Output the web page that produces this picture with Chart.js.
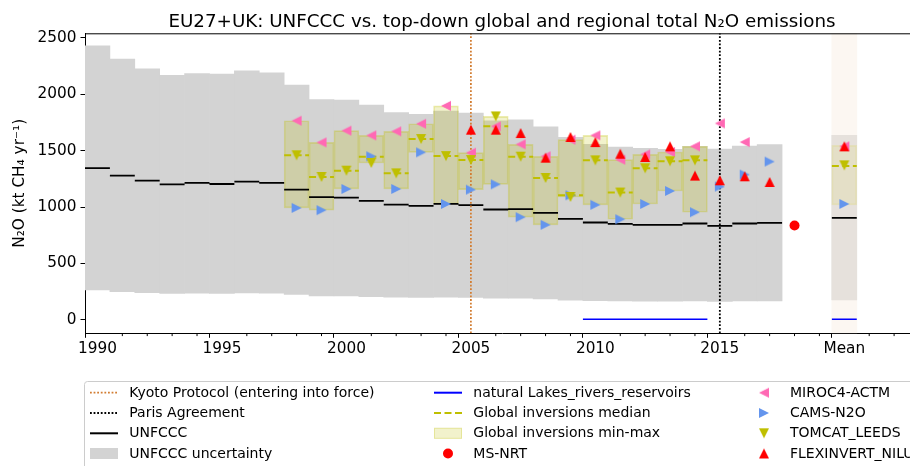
<!DOCTYPE html>
<html>
<head>
<meta charset="utf-8">
<script src="https://cdn.jsdelivr.net/npm/chart.js@4.4.1/dist/chart.umd.min.js"></script>
<style>
  html, body { margin: 0; padding: 0; overflow: hidden; background: #fff; }
</style>
</head>
<body>
<canvas id="n2oChart" width="924" height="466"></canvas>
<script>
// ---- data (kt N2O / yr) ----
const unfcccYears = [1990, 1991, 1992, 1993, 1994, 1995, 1996, 1997, 1998, 1999, 2000, 2001, 2002, 2003,
                     2004, 2005, 2006, 2007, 2008, 2009, 2010, 2011, 2012, 2013, 2014, 2015, 2016, 2017];
const unfccc     = [1345, 1278, 1234, 1201, 1213, 1204, 1225, 1213, 1154, 1087, 1084, 1054, 1022, 1010,
                    1027, 1016, 978, 981, 948, 895, 863, 851, 842, 842, 854, 833, 854, 860];
const unfcccLow  = [265, 250, 241, 236, 238, 236, 240, 238, 226, 213, 213, 207, 201, 199,
                    202, 200, 192, 193, 187, 176, 170, 168, 166, 166, 168, 164, 168, 169];
const unfcccHigh = [2427, 2309, 2223, 2167, 2182, 2176, 2205, 2188, 2079, 1952, 1946, 1902, 1837, 1820,
                    1849, 1831, 1762, 1773, 1711, 1617, 1556, 1531, 1519, 1510, 1537, 1513, 1540, 1552];

const invYears  = [1998, 1999, 2000, 2001, 2002, 2003, 2004, 2005, 2006, 2007, 2008, 2009, 2010, 2011, 2012, 2013, 2014];
const invMin    = [992, 972, 1160, 1390, 1160, 1484, 1027, 1154, 1201, 910, 842, 1089, 1019, 892, 1027, 1142, 954];
const invMax    = [1764, 1572, 1676, 1634, 1670, 1737, 1896, 1481, 1802, 1555, 1449, 1596, 1634, 1419, 1466, 1487, 1537];
const invMedian = [1458, 1266, 1322, 1446, 1298, 1602, 1451, 1416, 1714, 1446, 1257, 1104, 1413, 1128, 1343, 1405, 1413];

const mirocYears  = [1998, 1999, 2000, 2001, 2002, 2003, 2004, 2005, 2006, 2007, 2008, 2009, 2010, 2011, 2012, 2013, 2014, 2015, 2016];
const miroc       = [1764, 1572, 1676, 1634, 1670, 1737, 1896, 1481, 1714, 1555, 1449, 1596, 1634, 1419, 1466, 1487, 1537, 1740, 1575];
const camsYears   = [1998, 1999, 2000, 2001, 2002, 2003, 2004, 2005, 2006, 2007, 2008, 2009, 2010, 2011, 2012, 2013, 2014, 2015, 2016, 2017];
const cams        = [992, 972, 1160, 1449, 1160, 1484, 1027, 1154, 1201, 910, 842, 1104, 1019, 892, 1027, 1142, 954, 1181, 1287, 1402];
const tomcatYears = [1998, 1999, 2000, 2001, 2002, 2003, 2004, 2005, 2006, 2007, 2008, 2009, 2010, 2011, 2012, 2013, 2014];
const tomcat      = [1458, 1266, 1322, 1390, 1298, 1602, 1451, 1416, 1802, 1446, 1257, 1089, 1413, 1128, 1343, 1405, 1413];
const flexYears   = [2005, 2006, 2007, 2008, 2009, 2010, 2011, 2012, 2013, 2014, 2015, 2016, 2017];
const flex        = [1685, 1685, 1655, 1437, 1620, 1575, 1472, 1443, 1537, 1278, 1237, 1272, 1222];
const msNrtYears  = [2018];
const msNrt       = [836];
const lakesYears  = [2010, 2011, 2012, 2013, 2014];
const lakes       = [6, 6, 6, 6, 6];

// "Mean" column, plotted at x = 2020
const MEAN_X = 2020;
const meanUnfccc = 904, meanUnfcccLow = 178, meanUnfcccHigh = 1634;
const meanInvMin = 1019, meanInvMax = 1546, meanInvMedian = 1363;
const meanMiroc = 1537, meanCams = 1027, meanTomcat = 1369, meanFlex = 1537, meanLakes = 6;

const xTickYears  = [1990, 1995, 2000, 2005, 2010, 2015, 2020];
const xTickLabels = ['1990', '1995', '2000', '2005', '2010', '2015', 'Mean'];
const yTicks = [0, 500, 1000, 1500, 2000, 2500];
const KYOTO = 2005, PARIS = 2015;
const Y_MIN = -118, Y_MAX = 2538;

const FONT = "'DejaVu Sans', sans-serif";
const OLIVE = 'rgb(191,191,0)';
const KYOTO_COL = 'rgb(210,125,50)';
Chart.defaults.font.family = FONT;
Chart.defaults.color = '#000';

// helpers
const withMean = (a, m) => a.concat([m]);
const pts = (xs, ys) => xs.map((x, i) => ({ x: x, y: ys[i] }));
const floats = (xs, lo, hi) => xs.map((x, i) => ({ x: x, y: [lo[i], hi[i]] }));
// one horizontal step per year, gaps between years
function steps(xs, ys) {
  const out = [];
  xs.forEach((x, i) => {
    out.push({ x: x - 0.5, y: ys[i] }, { x: x + 0.5, y: ys[i] }, { x: x + 0.5, y: null });
  });
  return out;
}
// matplotlib-like triangle markers
function tri(dir, color) {
  const c = document.createElement('canvas');
  c.width = c.height = 12;
  const g = c.getContext('2d');
  g.fillStyle = color;
  g.beginPath();
  if (dir === 'up')    { g.moveTo(6, 1);  g.lineTo(11, 11); g.lineTo(1, 11); }
  if (dir === 'down')  { g.moveTo(1, 1);  g.lineTo(11, 1);  g.lineTo(6, 11); }
  if (dir === 'left')  { g.moveTo(1, 6);  g.lineTo(11, 1);  g.lineTo(11, 11); }
  if (dir === 'right') { g.moveTo(1, 1);  g.lineTo(11, 6);  g.lineTo(1, 11); }
  g.closePath();
  g.fill();
  return c;
}
const mkMiroc = tri('left', 'rgb(255,105,180)');
const mkCams = tri('right', 'rgb(100,149,237)');
const mkTomcat = tri('down', OLIVE);
const mkFlex = tri('up', 'rgb(255,0,0)');

const allUnfYears = withMean(unfcccYears, MEAN_X);
const allInvYears = withMean(invYears, MEAN_X);

const datasets = [
  { type: 'bar', label: 'UNFCCC uncertainty', order: 20,
    data: floats(allUnfYears, withMean(unfcccLow, meanUnfcccLow), withMean(unfcccHigh, meanUnfcccHigh)),
    backgroundColor: 'rgb(211,211,211)', borderWidth: 0 },
  { type: 'bar', label: 'Global inversions min-max', order: 19,
    data: floats(allInvYears, withMean(invMin, meanInvMin), withMean(invMax, meanInvMax)),
    backgroundColor: 'rgba(191,191,0,0.2)', borderColor: 'rgba(191,191,0,0.3)', borderWidth: 1, borderSkipped: false },
  { type: 'bar', label: 'mean span', order: 18,
    data: [{ x: MEAN_X, y: [Y_MIN, Y_MAX] }],
    backgroundColor: 'rgba(250,240,230,0.5)', borderWidth: 0 },
  { type: 'line', label: 'UNFCCC', order: 10,
    data: steps(allUnfYears, withMean(unfccc, meanUnfccc)),
    borderColor: '#000', borderWidth: 1.8, pointRadius: 0, spanGaps: false },
  { type: 'line', label: 'natural Lakes_rivers_reservoirs', order: 9,
    data: steps(withMean(lakesYears, MEAN_X), withMean(lakes, meanLakes)),
    borderColor: 'rgb(0,0,255)', borderWidth: 1.6, pointRadius: 0, spanGaps: false },
  { type: 'line', label: 'Global inversions median', order: 8,
    data: steps(allInvYears, withMean(invMedian, meanInvMedian)),
    borderColor: OLIVE, borderWidth: 2, borderDash: [7, 3.5], pointRadius: 0, spanGaps: false },
  { type: 'line', label: 'Kyoto Protocol (entering into force)', order: 7,
    data: [{ x: KYOTO, y: Y_MIN }, { x: KYOTO, y: Y_MAX }],
    borderColor: KYOTO_COL, borderWidth: 1.8, borderDash: [1.8, 1.8], pointRadius: 0 },
  { type: 'line', label: 'Paris Agreement', order: 7,
    data: [{ x: PARIS, y: Y_MIN }, { x: PARIS, y: Y_MAX }],
    borderColor: '#000', borderWidth: 1.8, borderDash: [1.8, 1.8], pointRadius: 0 },
  { type: 'scatter', label: 'MS-NRT', order: 5,
    data: pts(msNrtYears, msNrt), backgroundColor: 'rgb(255,0,0)', borderWidth: 0, pointRadius: 5 },
  { type: 'scatter', label: 'MIROC4-ACTM', order: 4,
    data: pts(withMean(mirocYears, MEAN_X), withMean(miroc, meanMiroc)), pointStyle: mkMiroc },
  { type: 'scatter', label: 'CAMS-N2O', order: 3,
    data: pts(withMean(camsYears, MEAN_X), withMean(cams, meanCams)), pointStyle: mkCams },
  { type: 'scatter', label: 'TOMCAT_LEEDS', order: 2,
    data: pts(withMean(tomcatYears, MEAN_X), withMean(tomcat, meanTomcat)), pointStyle: mkTomcat },
  { type: 'scatter', label: 'FLEXINVERT_NILU', order: 1,
    data: pts(withMean(flexYears, MEAN_X), withMean(flex, meanFlex)), pointStyle: mkFlex }
];

// legend entries, column by column like the original
const legendCols = [
  [['Kyoto Protocol (entering into force)', 'dots', KYOTO_COL],
   ['Paris Agreement', 'dots', '#000'],
   ['UNFCCC', 'line', '#000'],
   ['UNFCCC uncertainty', 'patch', 'rgb(211,211,211)']],
  [['natural Lakes_rivers_reservoirs', 'line', 'rgb(0,0,255)'],
   ['Global inversions median', 'dash', OLIVE],
   ['Global inversions min-max', 'patchY', ''],
   ['MS-NRT', 'circle', 'rgb(255,0,0)']],
  [['MIROC4-ACTM', 'img', mkMiroc],
   ['CAMS-N2O', 'img', mkCams],
   ['TOMCAT_LEEDS', 'img', mkTomcat],
   ['FLEXINVERT_NILU', 'img', mkFlex]]
];

const decor = {
  id: 'decor',
  afterDraw(chart) {
    const ctx = chart.ctx, ca = chart.chartArea, xs = chart.scales.x;
    ctx.save();
    // top spine
    ctx.strokeStyle = '#000';
    ctx.lineWidth = 1;
    ctx.beginPath();
    ctx.moveTo(ca.left, ca.top + 0.5);
    ctx.lineTo(ca.right, ca.top + 0.5);
    ctx.stroke();
    // minor x ticks
    xs.ticks.forEach(t => {
      if (xTickYears.indexOf(t.value) >= 0) return;
      const px = xs.getPixelForValue(t.value);
      ctx.beginPath();
      ctx.moveTo(px, ca.bottom);
      ctx.lineTo(px, ca.bottom + 2.8);
      ctx.stroke();
    });
    // title, centred on the axes
    ctx.fillStyle = '#000';
    ctx.font = '18.3px ' + FONT;
    ctx.textAlign = 'center';
    ctx.textBaseline = 'alphabetic';
    ctx.fillText('EU27+UK: UNFCCC vs. top-down global and regional total N\u2082O emissions', (ca.left + ca.right) / 2, 26.5);

    // legend
    ctx.strokeStyle = 'rgb(204,204,204)';
    ctx.lineWidth = 1;
    ctx.beginPath();
    ctx.roundRect(84.5, 381.5, 900, 120, 3);
    ctx.stroke();
    const rowY = [392.7, 413, 433.3, 453.5];
    const handleX = [90, 434, 750];
    const textX = [129.3, 473.3, 790];
    ctx.font = '14px ' + FONT;
    ctx.textAlign = 'left';
    ctx.textBaseline = 'middle';
    legendCols.forEach((col, ci) => {
      col.forEach((item, ri) => {
        const [label, kind, style] = item;
        const y = rowY[ri], x0 = handleX[ci], x1 = x0 + 28;
        ctx.save();
        if (kind === 'dots' || kind === 'line' || kind === 'dash') {
          ctx.strokeStyle = style;
          ctx.lineWidth = kind === 'dots' ? 1.8 : 2;
          ctx.setLineDash(kind === 'dots' ? [1.8, 1.8] : kind === 'dash' ? [7, 3.5] : []);
          ctx.beginPath();
          ctx.moveTo(x0, y);
          ctx.lineTo(x1, y);
          ctx.stroke();
        } else if (kind === 'patch') {
          ctx.fillStyle = style;
          ctx.fillRect(x0, y - 5.5, 28, 11);
        } else if (kind === 'patchY') {
          ctx.fillStyle = 'rgba(191,191,0,0.2)';
          ctx.fillRect(x0, y - 5.5, 28, 11);
          ctx.strokeStyle = 'rgba(191,191,0,0.25)';
          ctx.strokeRect(x0 + 0.5, y - 5, 27, 10);
        } else if (kind === 'circle') {
          ctx.fillStyle = style;
          ctx.beginPath();
          ctx.arc(x0 + 14, y, 5, 0, Math.PI * 2);
          ctx.fill();
        } else if (kind === 'img') {
          ctx.drawImage(style, x0 + 14 - 6, y - 6);
        }
        ctx.restore();
        ctx.fillStyle = '#000';
        ctx.fillText(label, textX[ci], y + 0.5);
      });
    });
    ctx.restore();
  }
};

const chart = new Chart(document.getElementById('n2oChart'), {
  type: 'scatter',
  data: { datasets: datasets },
  options: {
    responsive: false,
    animation: false,
    events: [],
    layout: { padding: { top: 33.3, right: 1, bottom: 0, left: 0 } },
    plugins: { legend: { display: false }, tooltip: { enabled: false }, title: { display: false } },
    datasets: { bar: { grouped: false, barPercentage: 1, categoryPercentage: 1 } },
    scales: {
      x: {
        type: 'linear', min: 1989.5, max: 2023, offset: false,
        afterBuildTicks: s => {
          const t = [];
          for (let v = 1990; v <= 2022; v++) t.push({ value: v });
          s.ticks = t;
        },
        afterFit: s => { s.height = 466 - 333.3; },
        ticks: {
          autoSkip: false, maxRotation: 0, minRotation: 0, padding: 2.5,
          font: { size: 15.3 },
          callback: v => { const i = xTickYears.indexOf(v); return i >= 0 ? xTickLabels[i] : ''; }
        },
        grid: {
          drawOnChartArea: false, tickLength: 4.5,
          tickColor: c => (c.tick && xTickYears.indexOf(c.tick.value) >= 0) ? '#000' : 'rgba(0,0,0,0)'
        },
        border: { color: '#000', width: 1 }
      },
      y: {
        type: 'linear', min: Y_MIN, max: Y_MAX,
        afterBuildTicks: s => { s.ticks = yTicks.map(v => ({ value: v })); },
        afterFit: s => { s.width = 85; },
        ticks: { padding: 4, font: { size: 15.3 }, callback: v => String(v) },
        grid: { drawOnChartArea: false, tickLength: 4.5, tickColor: '#000' },
        border: { color: '#000', width: 1 },
        title: { display: true, text: 'N\u2082O (kt CH\u2084 yr\u207B\u00B9)', font: { size: 15.3 }, padding: { top: 11, bottom: 0 } }
      }
    }
  },
  plugins: [decor]
});
</script>
</body>
</html>
